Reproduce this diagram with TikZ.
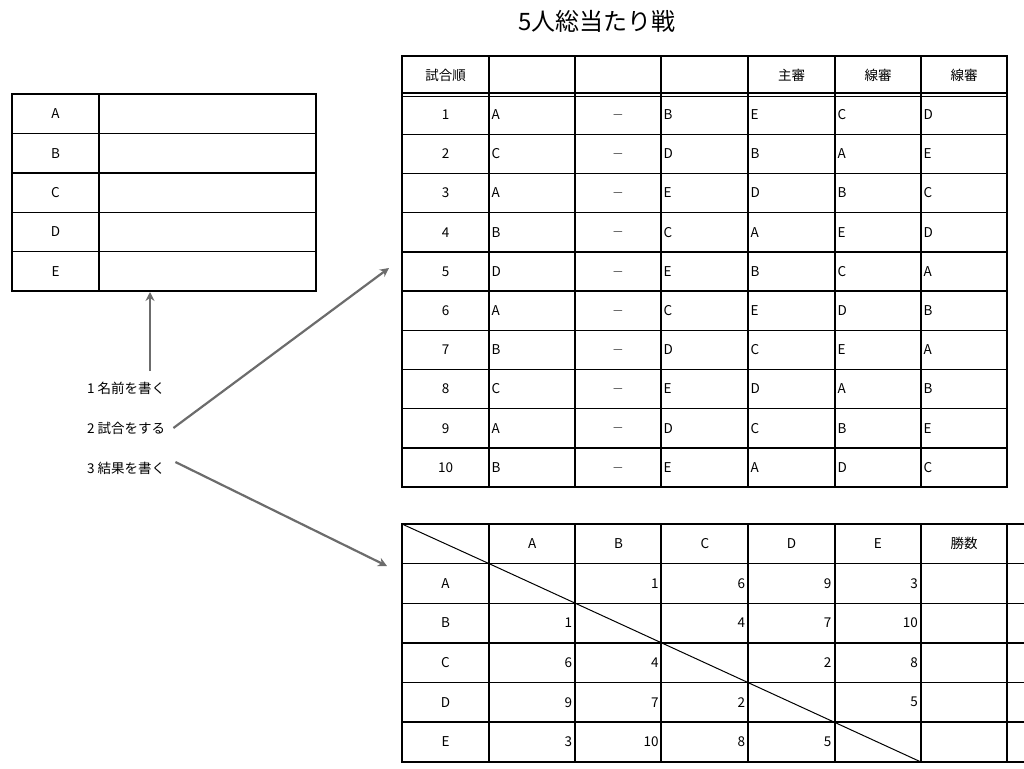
\documentclass[tikz,border=0pt]{standalone}
\usepackage{fontspec}
\setmainfont{Noto Sans CJK JP}
\usetikzlibrary{arrows.meta}
\begin{document}
\begin{tikzpicture}[x=1pt,y=-1pt,
  thick line/.style={line width=2.6pt},
  thin line/.style={line width=1.4pt},
  cell/.style={font=\fontsize{13.5}{13.5}\selectfont,inner sep=0pt},
  garrow/.style={draw=gray!85!black,line width=2.2pt,-{Stealth[length=9pt,width=9pt]}}]
\useasboundingbox (0,0) rectangle (1024,768);
\node (title) at (597,21) {\fontsize{24}{24}\selectfont 5人総当たり戦};
% left table
\foreach \y in {133.4,172.8,212.2,251.6} \draw[thin line] (12,\y) -- (316,\y);
\draw[thick line] (99,94) -- (99,291);
\draw[thick line] (12,94) rectangle (316,291);
\foreach \n [count=\i] in {A,B,C,D,E}
  \node[cell] (L\n) at (55.5,{94+39.4*(\i-0.5)}) {\n};
% top table
\foreach \i in {1,...,9} \draw[thin line] (402,{95+39.2*\i}) -- (1007,{95+39.2*\i});
\draw[line width=1.2pt] (402,93) -- (1007,93);
\draw[line width=1.2pt] (402,96.5) -- (1007,96.5);
\foreach \x in {489,748,835,921} \draw[thick line] (\x,56) -- (\x,487);
\foreach \x in {575,661} \draw[thin line] (\x,56) -- (\x,487);
\draw[thick line] (402,56) rectangle (1007,487);
\node[cell] (h1) at (445.5,75.5) {試合順};
\node[cell] (h5) at (791.5,75.5) {主審};
\node[cell] (h6) at (878,75.5) {線審};
\node[cell] (h7) at (964,75.5) {線審};
\foreach \a/\b/\c/\d/\e [count=\i] in {A/B/E/C/D,C/D/B/A/E,A/E/D/B/C,B/C/A/E/D,D/E/B/C/A,A/C/E/D/B,B/D/C/E/A,C/E/D/A/B,A/D/C/B/E,B/E/A/D/C}{
  \pgfmathsetmacro\yy{95+39.2*(\i-0.5)}
  \node[cell] (n\i) at (445.5,\yy) {\i};
  \node[cell,anchor=west] (a\i) at (491.5,\yy) {\a};
  \node[cell] (m\i) at (618,\yy) {$-$};
  \node[cell,anchor=west] (b\i) at (663.5,\yy) {\b};
  \node[cell,anchor=west] (c\i) at (750.5,\yy) {\c};
  \node[cell,anchor=west] (d\i) at (837.5,\yy) {\d};
  \node[cell,anchor=west] (e\i) at (923.5,\yy) {\e};
}
% bottom table
\foreach \i in {1,...,5} \draw[thin line] (402,{524+39.6*\i}) -- (1030,{524+39.6*\i});
\foreach \x in {489,575,661,748,835,921,1007} \draw[thick line] (\x,524) -- (\x,762);
\draw[thick line] (1030,524) -- (402,524) -- (402,762) -- (1030,762);
\draw[line width=1pt] (402,524) -- (489,563.6);
\draw[line width=1pt] (489,563.6) -- (921,762);
\foreach \n [count=\i] in {A,B,C,D,E}{
  \node[cell] (c\n) at ({489+86.4*(\i-0.5)},543.8) {\n};
  \node[cell] (r\n) at (445.5,{524+39.6*(\i+0.5)}) {\n};
}
\node[cell] (wins) at (964,543.8) {勝数};
\foreach \r/\vals [count=\i] in {A/{0,1,6,9,3},B/{1,0,4,7,10},C/{6,4,0,2,8},D/{9,7,2,0,5},E/{3,10,8,5,0}}{
  \foreach \v [count=\j] in \vals {
    \ifnum\v>0
      \node[cell,anchor=east] at ({489+86.4*\j-3},{524+39.6*(\i+0.5)}) {\v};
    \fi
  }
}
% instructions
\node[cell,anchor=west] (s1) at (87,388) {1 名前を書く};
\node[cell,anchor=west] (s2) at (87,428) {2 試合をする};
\node[cell,anchor=west] (s3) at (87,468) {3 結果を書く};
\coordinate (f1) at (150,371);
\coordinate (t1) at (150,292);
\coordinate (t2) at (389,268);
\coordinate (t3) at (387,566);
\draw[garrow] (f1) -- (t1);
\draw[garrow] ([xshift=8pt]s2.east) -- (t2);
\draw[garrow] ([xshift=10pt,yshift=6pt]s3.east) -- (t3);
\end{tikzpicture}
\end{document}
